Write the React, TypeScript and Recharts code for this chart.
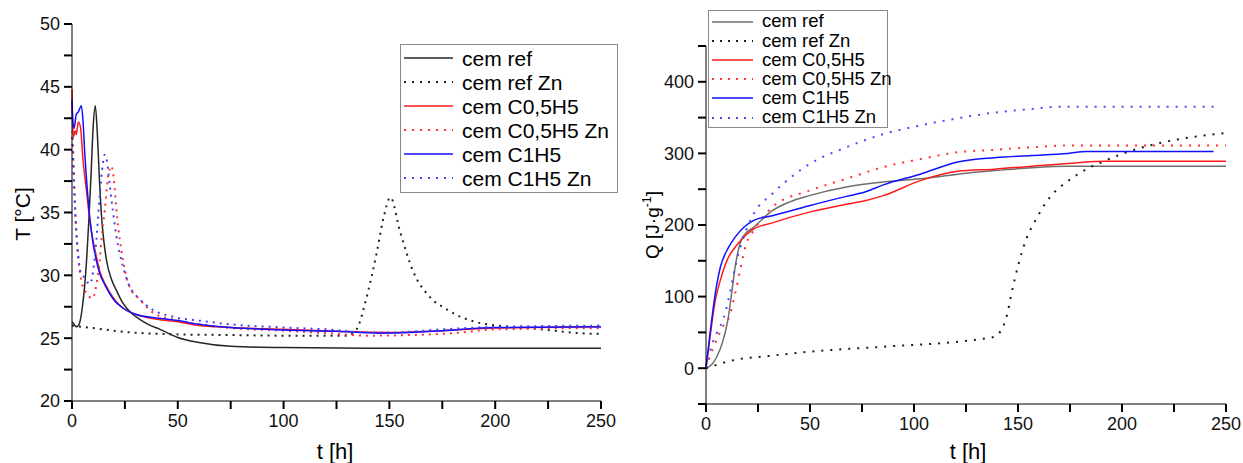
import { LineChart, Line, XAxis, YAxis, Legend } from 'recharts'

// temperature curves: [t h, T °C]
const tempRef: [number, number][] = [
  [0, 26.3], [1, 26.1], [2, 25.9], [3, 26.0], [4, 26.5], [5, 27.6], [6, 29.2], [7, 31.5], [8, 34.5],
  [9, 38], [10, 41.8], [11, 43.5], [12, 41.2], [13, 37.5], [14, 34.6], [15, 32.8], [16.3, 31.2],
  [18.6, 29.7], [21, 28.8], [24, 27.8], [28, 27], [32, 26.5], [36, 26.1], [41.6, 25.7], [50, 25.05],
  [60, 24.65], [75, 24.35], [100, 24.25], [150, 24.2], [250, 24.2],
]
const tempRefZn: [number, number][] = [
  [0, 26], [10, 25.8], [25, 25.5], [50, 25.3], [75, 25.25], [100, 25.2], [130, 25.2], [134.5, 25.7],
  [139, 28.1], [144, 31.8], [147, 34.4], [150.5, 36.2], [155, 33.5], [161, 30.4], [169, 28.3],
  [177, 27.3], [193, 26.2], [216, 25.8], [248, 25.35], [250, 25.35],
]
const tempC05: [number, number][] = [
  [0, 44.8], [0.3, 42], [0.7, 41], [1.5, 41.5], [2, 41.2], [3, 42.2], [4, 41.8], [5.2, 39.2],
  [6.8, 36.8], [8.4, 34.4], [9.9, 32.8], [11.5, 31.5], [13, 30.4], [16, 29.2], [20, 28.1],
  [24, 27.4], [30, 26.9], [40, 26.5], [50, 26.3], [60, 26.0], [75, 25.85], [100, 25.7],
  [125, 25.55], [150, 25.45], [175, 25.6], [200, 25.8], [250, 25.9],
]
const tempC05Zn: [number, number][] = [
  [0, 41.5], [0.5, 40.3], [1, 37.5], [2, 33.6], [3, 31.3], [3.6, 30.4], [5, 29.2], [6.8, 28.6],
  [8, 28.3], [9.9, 28.2], [11, 28.8], [12, 29.8], [13, 31], [14, 33], [15.5, 35.2], [17.1, 37.9],
  [18.6, 38.7], [19.8, 37.6], [21, 35.2], [24.1, 31.2], [27.2, 29.1], [32, 28.1], [38.6, 27.0],
  [50, 26.4], [60, 26.1], [75, 25.8], [100, 25.6], [120, 25.4], [140, 25.2], [160, 25.25],
  [180, 25.4], [200, 25.7], [250, 25.8],
]
const tempC1: [number, number][] = [
  [0, 44], [0.3, 42.5], [1, 41.7], [2, 42.8], [3, 43], [4.4, 43.5], [5.2, 42.3], [6, 39.8],
  [7, 37.3], [8.4, 34.6], [10, 32.5], [11.5, 31.2], [13, 30.2], [16, 29.1], [20, 28], [24, 27.4],
  [30, 26.9], [40, 26.6], [50, 26.4], [60, 26.1], [75, 25.85], [100, 25.65], [125, 25.55],
  [145, 25.4], [160, 25.45], [175, 25.6], [200, 25.85], [250, 25.9],
]
const tempC1Zn: [number, number][] = [
  [0, 41], [0.3, 40], [1, 37], [2, 33.5], [3, 31.5], [4, 30.3], [6, 29.8], [8.4, 29.3],
  [9.9, 30.2], [11.5, 32.8], [13.1, 36.3], [14.6, 38.9], [15.5, 39.6], [16.5, 39.1], [17.9, 37.1],
  [21, 33.1], [24.1, 30.7], [26.5, 29.4], [32, 28.1], [37.8, 27.3], [47.8, 26.7], [60, 26.4],
  [75, 26.1], [100, 25.85], [120, 25.7], [140, 25.45], [150, 25.45], [175, 25.7], [200, 25.9],
  [250, 26],
]

// heat curves: [t h, Q J/g]
const heatRef: [number, number][] = [
  [0, 0], [3, 6], [5.2, 16], [7.8, 35], [10.5, 67], [12.3, 104], [14, 141], [17.6, 183], [23, 197],
  [31.9, 220], [40, 232], [49.7, 241], [67.5, 253], [85.3, 260], [103, 264.5], [121, 271],
  [138.7, 276], [156.5, 280], [174, 282], [200, 282], [250, 282],
]
const heatRefZn: [number, number][] = [
  [0, 0], [14, 11.6], [30, 17], [49.7, 23], [85.3, 30], [121, 37], [135, 42], [138.7, 44],
  [144, 67], [147.6, 114], [150.3, 146], [153.8, 179], [158.3, 206], [165.4, 239], [174.3, 262],
  [183, 278], [192, 290], [210, 308.6], [227.7, 320], [250, 328.5],
]
const heatC05: [number, number][] = [
  [0, 0], [2, 45], [4.5, 95], [6.9, 123], [10.5, 153], [14, 169], [22, 192.6], [31.9, 203],
  [49.7, 218], [67.5, 229], [76.4, 234], [85.3, 241], [103, 262], [121, 275], [138.7, 278],
  [156.5, 282], [174, 286], [192, 289], [250, 289],
]
const heatC05Zn: [number, number][] = [
  [0, 0], [3, 25], [5.5, 42], [8, 58], [10.5, 67], [14, 104], [16.7, 141], [19.4, 174], [23, 192.6],
  [31.9, 225], [49.7, 248], [67.5, 264.5], [85.3, 281], [103, 292], [121, 301.6], [138.7, 305],
  [156.5, 308.6], [174, 311], [250, 311],
]
const heatC1: [number, number][] = [
  [0, 0], [2, 50], [4.5, 105], [6.9, 141], [10.5, 167], [14, 183], [23, 206.5], [31.9, 213],
  [49.7, 227], [67.5, 240], [76.4, 246], [85.3, 256], [103, 271], [121, 288], [138.7, 294],
  [156.5, 297], [174, 300], [183, 302.5], [244, 302.5],
]
const heatC1Zn: [number, number][] = [
  [0, 0], [2.5, 30], [5.2, 49], [8.7, 72], [11.4, 104], [14, 141], [17.6, 178.6], [23, 216],
  [31.9, 243.6], [49.7, 285], [67.5, 308.6], [85.3, 327], [103, 339], [121, 349], [138.7, 357],
  [156.5, 362], [169, 365], [247, 365],
]

const seriesNames = ['cem ref', 'cem ref Zn', 'cem C0,5H5', 'cem C0,5H5 Zn', 'cem C1H5', 'cem C1H5 Zn']
const tempSeries = [tempRef, tempRefZn, tempC05, tempC05Zn, tempC1, tempC1Zn]
const heatSeries = [heatRef, heatRefZn, heatC05, heatC05Zn, heatC1, heatC1Zn]
const dotted = [false, true, false, true, false, true]

const xTicks = [0, 25, 50, 75, 100, 125, 150, 175, 200, 225, 250]
const xMajor = [0, 50, 100, 150, 200, 250]
const tTicks = [20, 22.5, 25, 27.5, 30, 32.5, 35, 37.5, 40, 42.5, 45, 47.5, 50]
const tMajor = [20, 25, 30, 35, 40, 45, 50]
const qTicks = [-50, 0, 50, 100, 150, 200, 250, 300, 350, 400, 450]
const qMajor = [0, 100, 200, 300, 400]

const FONT = 'Arial, "Liberation Sans", sans-serif'
const tickStroke = { stroke: '#000', strokeWidth: 2 }
const tickText = { fontSize: 18, fill: '#111', fontFamily: FONT }

const toRows = (pts: [number, number][]) => pts.map(([t, v]) => ({ t, v }))
// minor ticks keep their line but get no label
const majorOnly = (majors: number[]) => (v: number) => (majors.includes(v) ? String(v) : '')

function LegendBox({ colors, width, height, rowH, lineW, size, dash }: any) {
  return (
    <div
      style={{
        width, height, boxSizing: 'border-box', border: '1px solid #8a8a8a', background: '#fff',
        paddingTop: 1, fontFamily: FONT, fontSize: size, lineHeight: 1, color: '#000',
      }}
    >
      {seriesNames.map((name, i) => (
        <div key={name} style={{ height: rowH, display: 'flex', alignItems: 'center' }}>
          <svg width={lineW + 4} height={6} style={{ marginLeft: 3, marginRight: 5, flex: 'none' }}>
            <line
              x1={0} x2={lineW} y1={3} y2={3} stroke={colors[i]} strokeWidth={dotted[i] ? 2 : 1.6}
              strokeDasharray={dotted[i] ? dash : undefined}
            />
          </svg>
          <span style={{ whiteSpace: 'nowrap' }}>{name}</span>
        </div>
      ))}
    </div>
  )
}

const leftColors = ['#262626', '#222', '#ff1a1a', '#ff3030', '#1010ff', '#4040ff']
const rightColors = ['#6e6e6e', '#1a1a1a', '#ff1a1a', '#ff3030', '#1010ff', '#4a4aff']

function Title({ x, y, rotate, size, children }: any) {
  return (
    <div
      style={{
        position: 'absolute', left: x, top: y, whiteSpace: 'nowrap', fontFamily: FONT, fontSize: size,
        color: '#000', transform: `translate(-50%, -50%)${rotate ? ' rotate(-90deg)' : ''}`,
      }}
    >
      {children}
    </div>
  )
}

export default function App() {
  return (
    <div style={{ position: 'absolute', left: 0, top: 0, width: 1243, height: 463, background: '#fff' }}>
      <div style={{ position: 'absolute', left: 0, top: 0 }}>
        <LineChart width={620} height={463} margin={{ top: 24, right: 19, bottom: 22, left: 0 }}>
          <XAxis
            type="number" dataKey="t" domain={[0, 250]} ticks={xTicks} interval={0} height={40}
            tickSize={8} tickMargin={5} tickLine={tickStroke} stroke="#000"
            tick={tickText} tickFormatter={majorOnly(xMajor)}
          />
          <YAxis
            type="number" dataKey="v" domain={[20, 50]} ticks={tTicks} interval={0} width={72}
            tickSize={8} tickMargin={4} tickLine={tickStroke} stroke="#000"
            tick={tickText} tickFormatter={majorOnly(tMajor)}
          />
          {tempSeries.map((pts, i) => (
            <Line
              key={seriesNames[i]} data={toRows(pts)} dataKey="v" name={seriesNames[i]} type="monotone"
              stroke={leftColors[i]} strokeWidth={dotted[i] ? 2 : 1.5}
              strokeDasharray={dotted[i] ? '2 5' : undefined} dot={false} isAnimationActive={false}
            />
          ))}
          <Legend
            layout="vertical" align="center" verticalAlign="middle"
            wrapperStyle={{ left: 400, top: 44, width: 218 }}
            content={() => (
              <LegendBox colors={leftColors} width={218} height={149} rowH={24} lineW={49} size={21} dash="2 6" />
            )}
          />
        </LineChart>
      </div>
      <div style={{ position: 'absolute', left: 630, top: 0 }}>
        <LineChart width={613} height={463} margin={{ top: 46, right: 17, bottom: 19, left: 0 }}>
          <XAxis
            type="number" dataKey="t" domain={[0, 250]} ticks={xTicks} interval={0} height={40}
            tickSize={8} tickMargin={5} tickLine={tickStroke} stroke="#000"
            tick={tickText} tickFormatter={majorOnly(xMajor)}
          />
          <YAxis
            type="number" dataKey="v" domain={[-50, 450]} ticks={qTicks} interval={0} width={76}
            tickSize={8} tickMargin={4} tickLine={tickStroke} stroke="#000"
            tick={tickText} tickFormatter={majorOnly(qMajor)}
          />
          {heatSeries.map((pts, i) => (
            <Line
              key={seriesNames[i]} data={toRows(pts)} dataKey="v" name={seriesNames[i]} type="monotone"
              stroke={rightColors[i]} strokeWidth={dotted[i] ? 2 : 1.5}
              strokeDasharray={dotted[i] ? '2 7' : undefined} dot={false} isAnimationActive={false}
            />
          ))}
          <Legend
            layout="vertical" align="center" verticalAlign="middle"
            wrapperStyle={{ left: 78, top: 10, width: 180 }}
            content={() => (
              <LegendBox colors={rightColors} width={180} height={118} rowH={19.2} lineW={41} size={18.5} dash="2 6" />
            )}
          />
        </LineChart>
      </div>
      <Title x={23} y={214} rotate size={21}>T [°C]</Title>
      <Title x={335} y={452} size={22}>t [h]</Title>
      <Title x={652} y={225} rotate size={19}>
        Q [J·g<sup style={{ fontSize: '0.65em' }}>-1</sup>]
      </Title>
      <Title x={968} y={452} size={22}>t [h]</Title>
    </div>
  )
}
